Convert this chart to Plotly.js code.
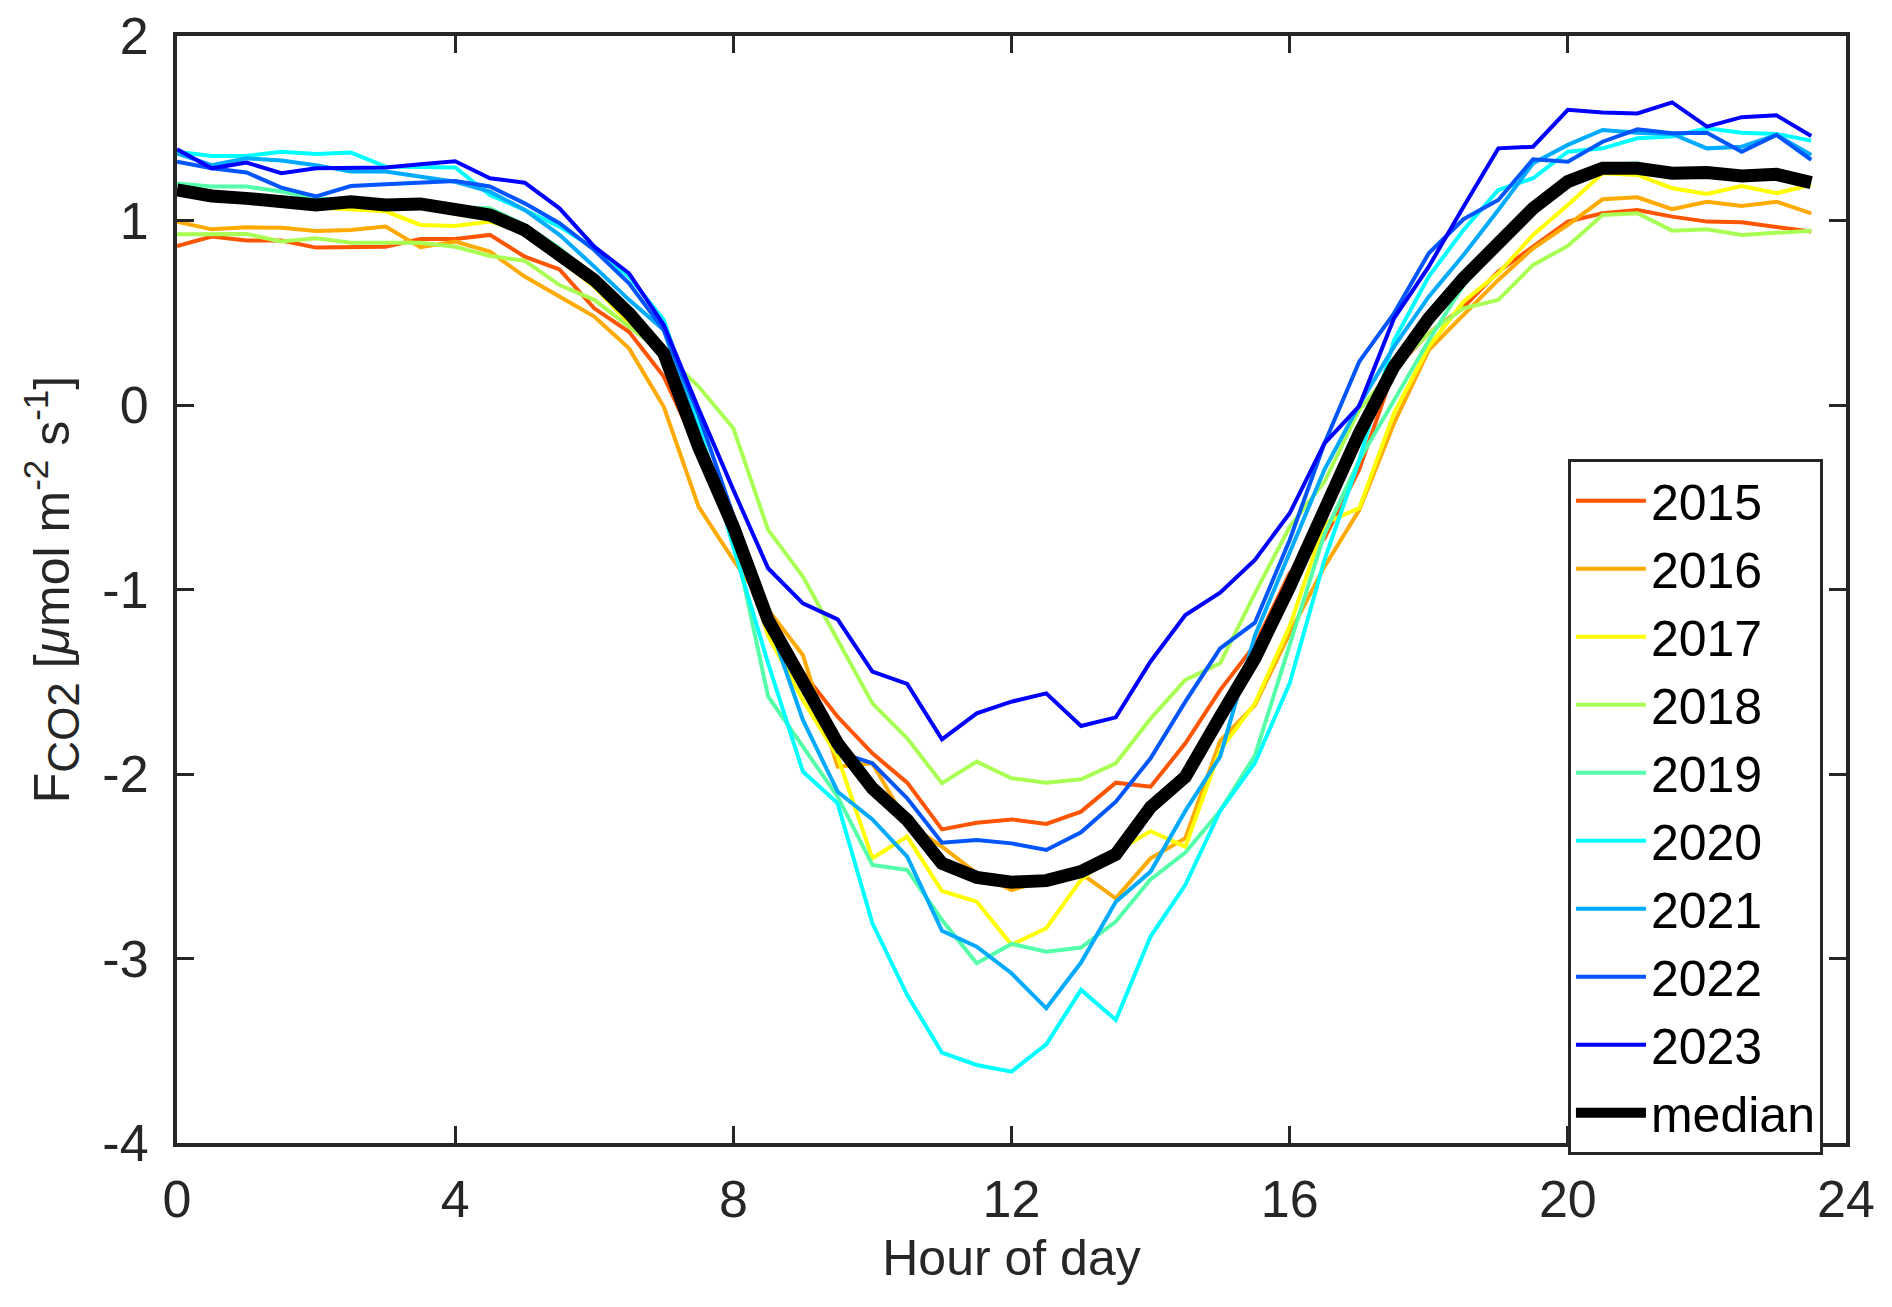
<!DOCTYPE html>
<html>
<head>
<meta charset="utf-8">
<script src="https://cdn.plot.ly/plotly-3.0.1.min.js"></script>
<style>
body{margin:0;background:#fff;}
#chart{width:1892px;height:1307px;}
</style>
</head>
<body>
<div id="chart"></div>
<script>
// half-hourly diurnal CO2 flux
var hours = [];
for (var i = 0; i < 48; i++) hours.push(i / 2);

var years = ["2015", "2016", "2017", "2018", "2019", "2020", "2021", "2022", "2023"];
var colors = ["#FF5500", "#FFAA00", "#FFFF00", "#AAFF55", "#55FFAA", "#00FFFF", "#00AAFF", "#0055FF", "#0000FF"];

var f2015 = [0.862, 0.913, 0.891, 0.891, 0.853, 0.858, 0.858, 0.90, 0.90, 0.922, 0.804, 0.735, 0.524, 0.397, 0.154, -0.25,
  -0.62, -1.12, -1.45, -1.69, -1.888, -2.047, -2.30, -2.264, -2.246, -2.271, -2.204, -2.047, -2.069, -1.834, -1.545, -1.301,
  -0.912, -0.723, -0.35, 0.19, 0.389, 0.53, 0.723, 0.858, 0.994, 1.039, 1.057, 1.021, 0.994, 0.99, 0.963, 0.94];
var f2016 = [0.994, 0.952, 0.963, 0.961, 0.943, 0.949, 0.967, 0.855, 0.886, 0.831, 0.696, 0.587, 0.479, 0.307, -0.01, -0.551,
  -0.84, -1.11, -1.355, -1.96, -1.942, -2.267, -2.394, -2.538, -2.629, -2.574, -2.538, -2.674, -2.457, -2.348, -1.82, -1.626,
  -1.238, -0.876, -0.569, -0.1, 0.298, 0.488, 0.678, 0.849, 0.976, 1.115, 1.126, 1.061, 1.102, 1.079, 1.102, 1.039];
var f2017 = [1.15, 1.12, 1.10, 1.09, 1.07, 1.06, 1.05, 0.976, 0.97, 0.994, 0.94, 0.786, 0.642, 0.443, 0.28, -0.2,
  -0.65, -1.25, -1.599, -1.906, -2.457, -2.339, -2.634, -2.692, -2.926, -2.836, -2.574, -2.42, -2.31, -2.394, -1.87, -1.617,
  -1.2, -0.64, -0.56, -0.045, 0.316, 0.56, 0.714, 0.922, 1.084, 1.256, 1.247, 1.175, 1.144, 1.187, 1.148, 1.193];
var f2018 = [0.925, 0.925, 0.927, 0.886, 0.904, 0.88, 0.882, 0.88, 0.858, 0.808, 0.782, 0.65, 0.57, 0.425, 0.28, 0.1,
  -0.126, -0.677, -0.93, -1.274, -1.617, -1.807, -2.05, -1.933, -2.023, -2.047, -2.029, -1.942, -1.70, -1.49, -1.40, -1.021,
  -0.66, -0.416, -0.027, 0.2, 0.389, 0.524, 0.569, 0.759, 0.862, 1.03, 1.039, 0.945, 0.952, 0.922, 0.931, 0.945];
var f2019 = [1.2, 1.184, 1.184, 1.157, 1.12, 1.10, 1.085, 1.085, 1.07, 1.066, 0.976, 0.85, 0.696, 0.515, 0.298, -0.15,
  -0.7, -1.58, -1.852, -2.123, -2.493, -2.52, -2.791, -3.026, -2.921, -2.963, -2.941, -2.8, -2.571, -2.426, -2.2, -1.9,
  -1.3, -0.7, -0.3, 0.02, 0.35, 0.65, 0.85, 1.05, 1.2, 1.3, 1.31, 1.26, 1.26, 1.24, 1.25, 1.2];
var f2020 = [1.373, 1.35, 1.35, 1.373, 1.36, 1.368, 1.292, 1.287, 1.287, 1.138, 1.057, 0.967, 0.849, 0.696, 0.461, -0.1,
  -0.77, -1.4, -1.987, -2.159, -2.809, -3.198, -3.51, -3.577, -3.613, -3.465, -3.17, -3.333, -2.881, -2.601, -2.2, -1.94,
  -1.509, -0.84, -0.3, 0.35, 0.696, 0.949, 1.165, 1.229, 1.373, 1.391, 1.446, 1.455, 1.5, 1.476, 1.469, 1.433];
var f2021 = [1.364, 1.30, 1.337, 1.325, 1.30, 1.265, 1.265, 1.238, 1.21, 1.157, 1.057, 0.922, 0.75, 0.57, 0.407, -0.15,
  -0.7, -1.165, -1.707, -2.096, -2.246, -2.448, -2.85, -2.936, -3.08, -3.27, -3.022, -2.692, -2.529, -2.2, -1.906, -1.25,
  -0.8, -0.35, 0.0, 0.316, 0.587, 0.813, 1.057, 1.31, 1.41, 1.491, 1.476, 1.469, 1.391, 1.4, 1.464, 1.355];
var f2022 = [1.319, 1.283, 1.26, 1.178, 1.13, 1.187, 1.196, 1.205, 1.214, 1.184, 1.093, 0.985, 0.84, 0.66, 0.407, -0.05,
  -0.6, -1.15, -1.5, -1.88, -1.942, -2.132, -2.372, -2.358, -2.376, -2.412, -2.316, -2.15, -1.915, -1.608, -1.319, -1.18,
  -0.732, -0.208, 0.235, 0.497, 0.822, 1.007, 1.111, 1.332, 1.319, 1.427, 1.494, 1.473, 1.476, 1.373, 1.464, 1.328];
var f2023 = [1.386, 1.283, 1.314, 1.256, 1.283, 1.287, 1.287, 1.305, 1.321, 1.229, 1.205, 1.066, 0.858, 0.714, 0.434, -0.02,
  -0.46, -0.885, -1.075, -1.162, -1.445, -1.512, -1.812, -1.671, -1.608, -1.563, -1.74, -1.693, -1.39, -1.138, -1.017, -0.84,
  -0.587, -0.208, -0.006, 0.47, 0.75, 1.075, 1.391, 1.4, 1.6, 1.585, 1.58, 1.64, 1.509, 1.56, 1.57, 1.458];
var fMedian = [1.166, 1.133, 1.12, 1.106, 1.084, 1.102, 1.084, 1.09, 1.066, 1.03, 0.949, 0.822, 0.678, 0.497, 0.28, -0.226,
  -0.659, -1.165, -1.49, -1.834, -2.078, -2.249, -2.484, -2.56, -2.586, -2.578, -2.529, -2.435, -2.18, -2.015, -1.69, -1.373,
  -0.985, -0.578, -0.154, 0.208, 0.47, 0.687, 0.867, 1.066, 1.211, 1.283, 1.283, 1.256, 1.26, 1.241, 1.25, 1.205];

var series = [f2015, f2016, f2017, f2018, f2019, f2020, f2021, f2022, f2023];

var xTicks = [0, 4, 8, 12, 16, 20, 24];
var yTicks = [-4, -3, -2, -1, 0, 1, 2];

var data = [];
for (var k = 0; k < years.length; k++) {
    data.push({
        x: hours,
        y: series[k],
        name: years[k],
        type: 'scatter',
        mode: 'lines',
        line: {color: colors[k], width: 4}
    });
}
data.push({
    x: hours,
    y: fMedian,
    name: 'median',
    type: 'scatter',
    mode: 'lines',
    line: {color: '#000000', width: 13}
});

var axisCol = '#262626';
var font = {family: 'Liberation Sans, Arial, sans-serif', size: 52, color: axisCol};

var layout = {
    width: 1892,
    height: 1307,
    margin: {l: 177, r: 46, t: 36, b: 164},
    paper_bgcolor: '#ffffff',
    plot_bgcolor: '#ffffff',
    font: font,
    showlegend: true,
    legend: {
        x: 0.8334, y: 0.618, xanchor: 'left', yanchor: 'top',
        bgcolor: '#ffffff', bordercolor: axisCol, borderwidth: 3,
        font: {family: 'Liberation Sans, Arial, sans-serif', size: 50, color: '#000000'},
        itemwidth: 70, tracegroupgap: 0
    },
    xaxis: {
        range: [0, 24],
        tickvals: xTicks,
        ticktext: xTicks.map(String),
        ticks: 'inside', ticklen: 17, tickwidth: 3, tickcolor: axisCol,
        showline: true, linewidth: 4, linecolor: axisCol, mirror: 'ticks',
        showgrid: false, zeroline: false,
        ticklabelstandoff: 8,
        title: {text: 'Hour of day', font: {size: 50, color: axisCol}, standoff: 14}
    },
    yaxis: {
        range: [-4, 2],
        tickvals: yTicks,
        ticktext: yTicks.map(String),
        ticks: 'inside', ticklen: 17, tickwidth: 3, tickcolor: axisCol,
        showline: true, linewidth: 4, linecolor: axisCol, mirror: 'ticks',
        showgrid: false, zeroline: false,
        ticklabelstandoff: 14,
        title: {
            text: 'F<sub><span style="font-size:44px">CO2</span></sub> [<i>μ</i>mol m<sup>-2</sup> s<sup>-1</sup>]',
            font: {size: 50, color: axisCol}, standoff: 18
        }
    }
};

Plotly.newPlot('chart', data, layout, {staticPlot: true});
</script>
</body>
</html>
